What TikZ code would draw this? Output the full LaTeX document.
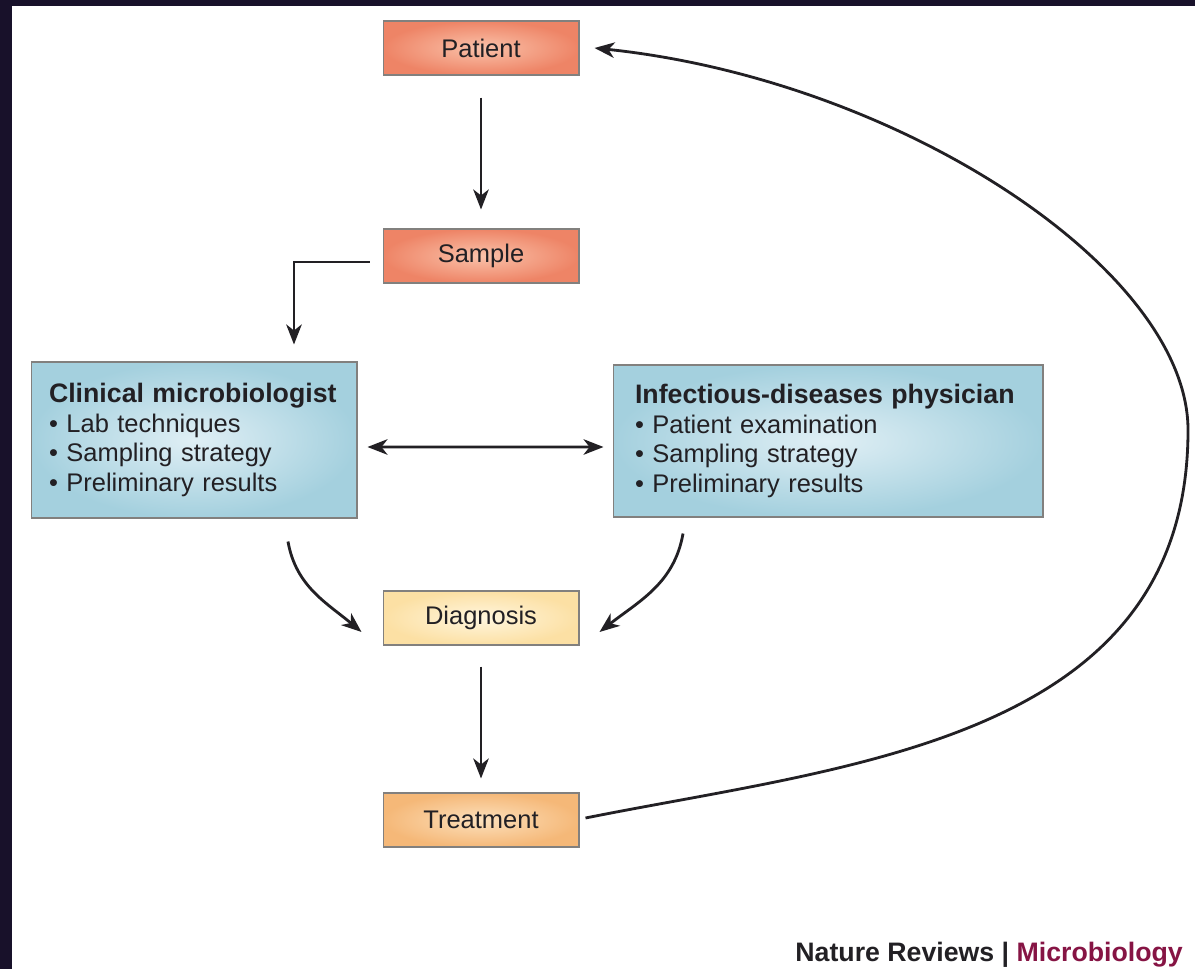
\documentclass[tikz,border=0pt]{standalone}
\usepackage{fontspec}
\setmainfont{Liberation Sans}
\usetikzlibrary{arrows.meta}
\definecolor{flowink}{RGB}{34,32,36}
\definecolor{flowframe}{RGB}{24,17,42}
\definecolor{flowedge}{RGB}{130,128,126}
\definecolor{salmonout}{RGB}{238,132,102}
\definecolor{salmonin}{RGB}{250,194,170}
\definecolor{diagout}{RGB}{252,224,164}
\definecolor{diagin}{RGB}{255,246,222}
\definecolor{treatout}{RGB}{245,184,120}
\definecolor{treatin}{RGB}{252,224,188}
\definecolor{roleout}{RGB}{164,208,222}
\definecolor{rolein}{RGB}{224,239,245}
\definecolor{journalred}{RGB}{134,20,68}
\tikzset{
  stagebox/.style={draw=flowedge, line width=0.6pt, minimum width=3.92cm,
    minimum height=1.08cm, inner sep=0pt, text=flowink,
    font=\fontsize{14.5}{16}\selectfont},
  patientbox/.style={stagebox, inner color=salmonin, outer color=salmonout},
  diagbox/.style={stagebox, inner color=diagin, outer color=diagout},
  treatbox/.style={stagebox, inner color=treatin, outer color=treatout},
  rolebox/.style={draw=flowedge, line width=0.6pt, inner color=rolein,
    outer color=roleout, align=left, text=flowink, inner ysep=0pt,
    font=\fontsize{14.5}{16.8}\selectfont},
  flowarrow/.style={-{Stealth[length=4mm,width=3.1mm,inset=1.2mm]},
    line width=1.6pt, flowink},
  flowtwoway/.style={{Stealth[length=4mm,width=3.1mm,inset=1.2mm]}-{Stealth[length=4mm,width=3.1mm,inset=1.2mm]},
    line width=1.6pt, flowink},
}
\begin{document}
\begin{tikzpicture}[x=0.02cm, y=-0.02cm]
  \useasboundingbox (0,0) rectangle (1195,969);
  \fill[flowframe] (0,0) rectangle (1195,969);
  \fill[white] (12,6) rectangle (1195,969);

  \node[patientbox] (patient) at (481,48) {Patient};
  \node[patientbox] (sample) at (481,256) {Sample};
  \node[rolebox, text width=5.8cm, inner xsep=0.36cm, minimum height=3.12cm]
    (clin) at (194,440)
    {\mbox{\bfseries\fontsize{15.2}{16.8}\selectfont Clinical microbiologist}\\
     \textbullet\ Lab techniques\\
     \textbullet\ Sampling strategy\\
     \textbullet\ Preliminary results};
  \node[rolebox, text width=7.72cm, inner xsep=0.44cm, minimum height=3.04cm]
    (idphys) at (828,441)
    {\mbox{\bfseries\fontsize{15.2}{16.8}\selectfont Infectious-diseases physician}\\
     \textbullet\ Patient examination\\
     \textbullet\ Sampling strategy\\
     \textbullet\ Preliminary results};
  \node[diagbox] (diag) at (481,618) {Diagnosis};
  \node[treatbox] (treat) at (481,820) {Treatment};
  \node[anchor=base east, text=flowink, font=\bfseries\fontsize{15.2}{15}\selectfont]
    (credit) at (1189,961) {Nature Reviews | {\color{journalred}Microbiology}};
  \coordinate (loopturn) at (1188,430);

  \draw[flowarrow, shorten <=0.44cm, shorten >=0.38cm] (patient) -- (sample);
  \draw[flowarrow, shorten <=0.26cm, shorten >=0.34cm]
    ([yshift=-0.12cm]sample.west) -| ([xshift=2cm]clin.north);
  \draw[flowtwoway, shorten <=0.2cm, shorten >=0.18cm]
    ([yshift=-0.14cm]clin.east) -- ([yshift=-0.12cm]idphys.west);
  \draw[flowarrow] ([xshift=1.88cm,yshift=-0.46cm]clin.south)
    to[out=-80, in=140] ([xshift=-0.42cm,yshift=-0.28cm]diag.west);
  \draw[flowarrow] ([xshift=-2.9cm,yshift=-0.32cm]idphys.south)
    to[out=-100, in=38] ([xshift=0.4cm,yshift=-0.28cm]diag.east);
  \draw[flowarrow, shorten <=0.42cm, shorten >=0.28cm] (diag) -- (treat);
  \draw[flowarrow] ([xshift=0.12cm,yshift=0.04cm]treat.east)
    .. controls (850,765) and (1188,740) .. (loopturn)
    .. controls (1188,270) and (900,80) .. ([xshift=0.3cm]patient.east);
\end{tikzpicture}
\end{document}
